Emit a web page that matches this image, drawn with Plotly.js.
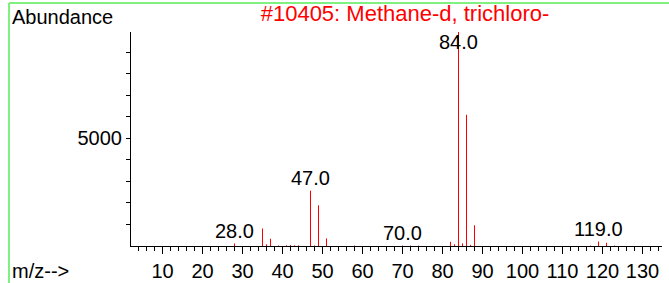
<!DOCTYPE html>
<html>
<head>
<meta charset="utf-8">
<script src="https://cdn.plot.ly/plotly-3.0.1.min.js"></script>
<style>
  html, body { margin: 0; padding: 0; background: #ffffff; }
  #chart { width: 669px; height: 283px; }
</style>
</head>
<body>
<div id="chart"></div>
<script>
// ---- data ----
const mz = [28, 35, 36, 37, 39, 41, 42, 43, 44, 47, 48, 49, 51, 58, 70, 72, 74, 82, 83, 84, 85, 86, 87, 88, 117, 119, 121, 123];
const abundance = [116, 812, 80, 335, 25, 35, 45, 30, 30, 2569, 25, 1889, 350, 20, 20, 20, 15, 194, 80, 9999, 120, 6088, 50, 963, 20, 208, 148, 20];
const labeledPeaks = [28, 47, 70, 84, 119];
const yTickValues = [1000, 2000, 3000, 4000, 5000, 6000, 7000, 8000, 9000];
const yTickLabels = ['', '', '', '', '5000', '', '', '', ''];
const titleText = '#10405: Methane-d, trichloro-';
const yLabelText = 'Abundance';
const xLabelText = 'm/z-->';

// ---- layout geometry ----
const W = 669, H = 283;
const M = { l: 131, r: 7, t: 32, b: 37 };
const plotW = W - M.l - M.r, plotH = H - M.t - M.b;
const xRange = [2.125, 2.125 + plotW / 4];
const yRange = [0, 9930];
const labelCap = 8850;
const FONT = 'Liberation Sans, Arial, sans-serif';

const px2paperX = px => (px - M.l) / plotW;
const py2paperY = py => (H - M.b - py) / plotH;

// stick spectrum as vertical line segments
const segX = [], segY = [];
mz.forEach((m, i) => { segX.push(m, m, null); segY.push(0, abundance[i], null); });

const trace = {
  type: 'scatter', mode: 'lines', x: segX, y: segY,
  line: { color: '#ff0000', width: 1 }, hoverinfo: 'skip', showlegend: false
};

const annotations = labeledPeaks.map(m => {
  const v = abundance[mz.indexOf(m)];
  return {
    x: m, y: Math.min(v, labelCap), xref: 'x', yref: 'y',
    text: m.toFixed(1), showarrow: false, xanchor: 'center', yanchor: 'bottom',
    font: { family: FONT, size: 20, color: '#000000' }
  };
});
annotations.push({
  x: px2paperX(10), y: py2paperY(4), xref: 'paper', yref: 'paper',
  text: yLabelText, showarrow: false, xanchor: 'left', yanchor: 'top',
  font: { family: FONT, size: 20, color: '#000000' }
});
annotations.push({
  x: px2paperX(10), y: py2paperY(284), xref: 'paper', yref: 'paper',
  text: xLabelText, showarrow: false, xanchor: 'left', yanchor: 'bottom',
  font: { family: FONT, size: 20, color: '#000000' }
});

const green = '#80f080';
const shapes = [
  { type: 'line', xref: 'paper', yref: 'paper', x0: px2paperX(9), x1: px2paperX(9), y0: py2paperY(H), y1: py2paperY(3), line: { color: green, width: 2 } },
  { type: 'line', xref: 'paper', yref: 'paper', x0: px2paperX(9), x1: px2paperX(W), y0: py2paperY(3), y1: py2paperY(3), line: { color: green, width: 2 } }
];

const layout = {
  width: W, height: H, margin: M,
  paper_bgcolor: '#ffffff', plot_bgcolor: '#ffffff',
  font: { family: FONT, size: 20, color: '#000000' },
  title: {
    text: titleText, x: 405 / W, xanchor: 'center', xref: 'container',
    y: 1 - 5.5 / H, yanchor: 'top', yref: 'container',
    font: { family: FONT, size: 22, color: '#ff0000' }
  },
  xaxis: {
    range: xRange, showgrid: false, zeroline: false,
    showline: true, linecolor: '#000000', linewidth: 1,
    ticks: 'outside', ticklen: 7, tickcolor: '#000000', tickwidth: 1,
    tick0: 0, dtick: 10,
    tickfont: { family: FONT, size: 20, color: '#000000' },
    minor: { ticks: 'outside', dtick: 2, tick0: 0, ticklen: 4, tickcolor: '#000000', tickwidth: 1, showgrid: false },
    fixedrange: true
  },
  yaxis: {
    range: yRange, showgrid: false, zeroline: false,
    showline: true, linecolor: '#000000', linewidth: 1,
    ticks: 'outside', ticklen: 4, tickcolor: '#000000', tickwidth: 1,
    tickmode: 'array', tickvals: yTickValues, ticktext: yTickLabels,
    tickfont: { family: FONT, size: 20, color: '#000000' },
    fixedrange: true
  },
  annotations: annotations,
  shapes: shapes,
  showlegend: false
};

Plotly.newPlot('chart', [trace], layout, { staticPlot: true, displayModeBar: false });
</script>
</body>
</html>
